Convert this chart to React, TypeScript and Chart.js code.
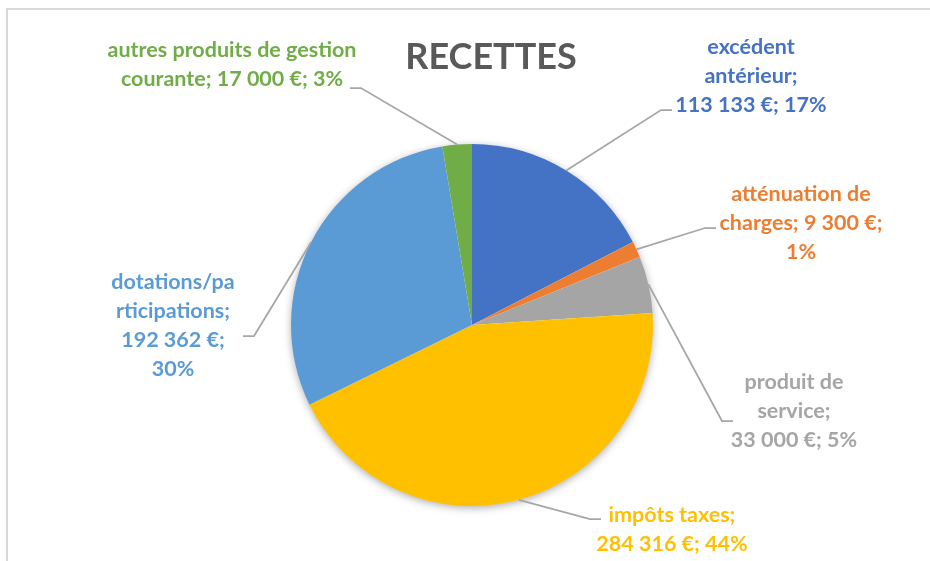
import React, { useEffect, useRef } from "react";
import { Chart, registerables } from "chart.js";

Chart.register(...registerables);

const categories = [
  "excédent antérieur",
  "atténuation de charges",
  "produit de service",
  "impôts taxes",
  "dotations/participations",
  "autres produits de gestion courante",
];
const values = [113133, 9300, 33000, 284316, 192362, 17000];
const labelLines = [
  ["excédent", "antérieur;", "113 133 €; 17%"],
  ["atténuation de", "charges; 9 300 €;", "1%"],
  ["produit de", "service;", "33 000 €; 5%"],
  ["impôts taxes;", "284 316 €; 44%"],
  ["dotations/pa", "rticipations;", "192 362 €;", "30%"],
  ["autres produits de gestion", "courante; 17 000 €; 3%"],
];
const title = "RECETTES";

const colors = ["#4472C4", "#ED7D31", "#A5A5A5", "#FFC000", "#5B9BD5", "#70AD47"];

// label layout: text block center x, first line center y, leader anchor point, elbow direction
const labelLayout = [
  { cx: 751, cy: 47, ax: 672, ay: 110, dir: -1 },
  { cx: 801, cy: 194, ax: 716, ay: 228, dir: -1 },
  { cx: 794, cy: 382, ax: 733, ay: 421, dir: -1 },
  { cx: 672, cy: 515, ax: 601, ay: 519, dir: -1 },
  { cx: 173, cy: 282, ax: 243, ay: 336, dir: 1 },
  { cx: 232, cy: 50, ax: 350, ay: 88, dir: 1 },
];

const FONT = "Lato";
const LABEL_SIZE = 21.5;
const LINE_H = 29;

const labelPlugin = {
  id: "customLabels",
  beforeDatasetsDraw(chart: any) {
    const meta = chart.getDatasetMeta(0);
    const a = meta.data[0];
    if (!a) return;
    const ctx = chart.ctx;
    ctx.save();
    ctx.shadowColor = "rgba(0,0,0,0.35)";
    ctx.shadowBlur = 9;
    ctx.shadowOffsetX = 0;
    ctx.shadowOffsetY = 2;
    ctx.fillStyle = "#ffffff";
    ctx.beginPath();
    ctx.arc(a.x, a.y, a.outerRadius - 0.5, 0, Math.PI * 2);
    ctx.fill();
    ctx.restore();
  },
  afterDatasetsDraw(chart: any) {
    const ctx = chart.ctx;
    const meta = chart.getDatasetMeta(0);
    ctx.save();
    // title
    ctx.fillStyle = "#595959";
    ctx.font = `bold 36px ${FONT}`;
    ctx.textAlign = "center";
    ctx.textBaseline = "middle";
    ctx.fillText(title, 491, 57);

    meta.data.forEach((arc: any, i: number) => {
      const L = labelLayout[i];
      const mid = (arc.startAngle + arc.endAngle) / 2;
      const ex = arc.x + Math.cos(mid) * arc.outerRadius;
      const ey = arc.y + Math.sin(mid) * arc.outerRadius;
      const elbowX = L.ax + L.dir * 11;
      ctx.strokeStyle = "#A6A6A6";
      ctx.lineWidth = 1.75;
      ctx.beginPath();
      ctx.moveTo(ex, ey);
      ctx.lineTo(elbowX, L.ay);
      ctx.lineTo(L.ax, L.ay);
      ctx.stroke();

      ctx.fillStyle = colors[i];
      ctx.font = `bold ${LABEL_SIZE}px ${FONT}`;
      ctx.textAlign = "center";
      ctx.textBaseline = "middle";
      labelLines[i].forEach((t, k) => {
        ctx.fillText(t, L.cx, L.cy + k * LINE_H);
      });
    });
    ctx.restore();
  },
};

export default function App() {
  const ref = useRef<HTMLCanvasElement>(null);
  useEffect(() => {
    const chart = new Chart(ref.current as HTMLCanvasElement, {
      type: "pie",
      data: {
        labels: categories,
        datasets: [
          {
            data: values,
            backgroundColor: colors,
            borderWidth: 0,
          },
        ],
      },
      options: {
        responsive: false,
        animation: false,
        layout: { padding: { top: 144, bottom: 55, left: 291, right: 277 } },
        plugins: {
          legend: { display: false },
          tooltip: { enabled: false },
          title: { display: false },
        },
      },
      plugins: [labelPlugin],
    });
    return () => chart.destroy();
  }, []);
  return (
    <div style={{ position: "fixed", left: 0, top: 0, width: 930, height: 561, background: "#fff" }}>
      <canvas ref={ref} width={930} height={561} style={{ position: "absolute", left: 0, top: 0 }} />
      <div
        style={{
          position: "absolute",
          left: 6,
          top: 8,
          width: 940,
          height: 600,
          borderTop: "2.5px solid #D9D9D9",
          borderLeft: "2.5px solid #D9D9D9",
          pointerEvents: "none",
        }}
      />
    </div>
  );
}
